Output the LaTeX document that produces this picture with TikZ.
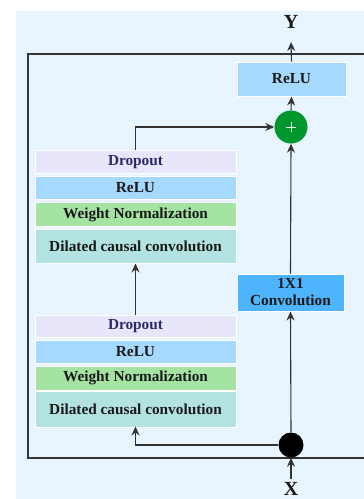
\documentclass[tikz,border=0pt]{standalone}
\usepackage{fontspec}
\setmainfont{Liberation Serif}
\usetikzlibrary{arrows.meta,calc}
\definecolor{bgblue}{HTML}{E8F4FE}
\definecolor{dropfill}{HTML}{E8E6FA}
\definecolor{dropink}{HTML}{2C2A66}
\definecolor{relufill}{HTML}{A6D9FE}
\definecolor{wnfill}{HTML}{A4E3A2}
\definecolor{dcfill}{HTML}{B3E3E0}
\definecolor{convfill}{HTML}{4FB4FE}
\definecolor{plusgreen}{HTML}{00972F}
\definecolor{wire}{HTML}{333333}
\tikzset{
  layer/.style={draw=white, line width=1pt, minimum width=201pt, inner sep=0pt,
    font=\fontsize{15.3}{16}\selectfont\bfseries, text=black!90},
  sidebox/.style={draw=white, line width=1pt, inner sep=0pt, align=center,
    font=\fontsize{15.3}{16}\selectfont\bfseries, text=black!90},
  wireline/.style={draw=wire, line width=1.1pt},
  arr/.style={wireline, -{Stealth[length=9pt,width=8pt,inset=3pt]}},
  iolabel/.style={font=\fontsize{20}{22}\selectfont\bfseries, text=black!90, inner sep=0pt}
}
\begin{document}
\begin{tikzpicture}[x=1pt,y=-1pt]
\useasboundingbox (0,0) rectangle (364,499);
% panel and block frame
\fill[bgblue] (16,11) rectangle (364,499);
\draw[wireline] (364,54) -- (28,54) -- (28,458) -- (364,458);

% upper residual stack
\node[layer, fill=dropfill, text=dropink, minimum height=23pt] (dA) at (135.5,162) {Dropout};
\node[layer, fill=relufill, minimum height=23pt] (rA) at (135.5,188) {ReLU};
\node[layer, fill=wnfill, minimum height=24pt] (wA) at (135.5,214.5) {Weight Normalization};
\node[layer, fill=dcfill, minimum height=34pt] (cA) at (135.5,246) {Dilated causal convolution};

% lower residual stack
\node[layer, fill=dropfill, text=dropink, minimum height=22pt] (dB) at (135.5,326) {Dropout};
\node[layer, fill=relufill, minimum height=23pt] (rB) at (135.5,351.5) {ReLU};
\node[layer, fill=wnfill, minimum height=24pt] (wB) at (135.5,378) {Weight Normalization};
\node[layer, fill=dcfill, minimum height=36pt] (cB) at (135.5,409) {Dilated causal convolution};

% skip path and output
\node[sidebox, fill=convfill, minimum width=107pt, minimum height=37pt] (conv) at (290.5,292.5) {1X1\\[1pt]Convolution};
\node[sidebox, fill=relufill, minimum width=109pt, minimum height=34pt] (rOut) at (291.5,79) {ReLU};
\node[circle, fill=plusgreen, minimum size=33pt, inner sep=0pt] (plus) at (291,127) {};
\draw[white, line width=0.8pt] ($(plus.center)+(-5,0)$) -- ($(plus.center)+(5,0)$)
  ($(plus.center)+(0,-5)$) -- ($(plus.center)+(0,5)$);
\node[circle, fill=black, minimum size=25pt, inner sep=0pt] (split) at (291,445) {};

\node[iolabel] (Y) at (291,22) {Y};
\node[iolabel, anchor=north] (X) at (291,482) {X};
\coordinate (ytip) at (291,42);
\coordinate (xtail) at (291,479);

% connectors
\draw[arr] (xtail) -- (split.south);
\draw[arr] (split.north) -- (conv.south);
\draw[arr] (conv.north) -- (plus.south);
\draw[arr] (plus.north) -- (rOut.south);
\draw[arr] (rOut.north) -- (ytip);
\draw[arr] (split.west) -| ($(cB.south)+(0,-1)$);
\draw[arr] (dB.north) -- (cA.south);
\draw[arr] (dA.north) |- (plus.west);
\end{tikzpicture}
\end{document}
